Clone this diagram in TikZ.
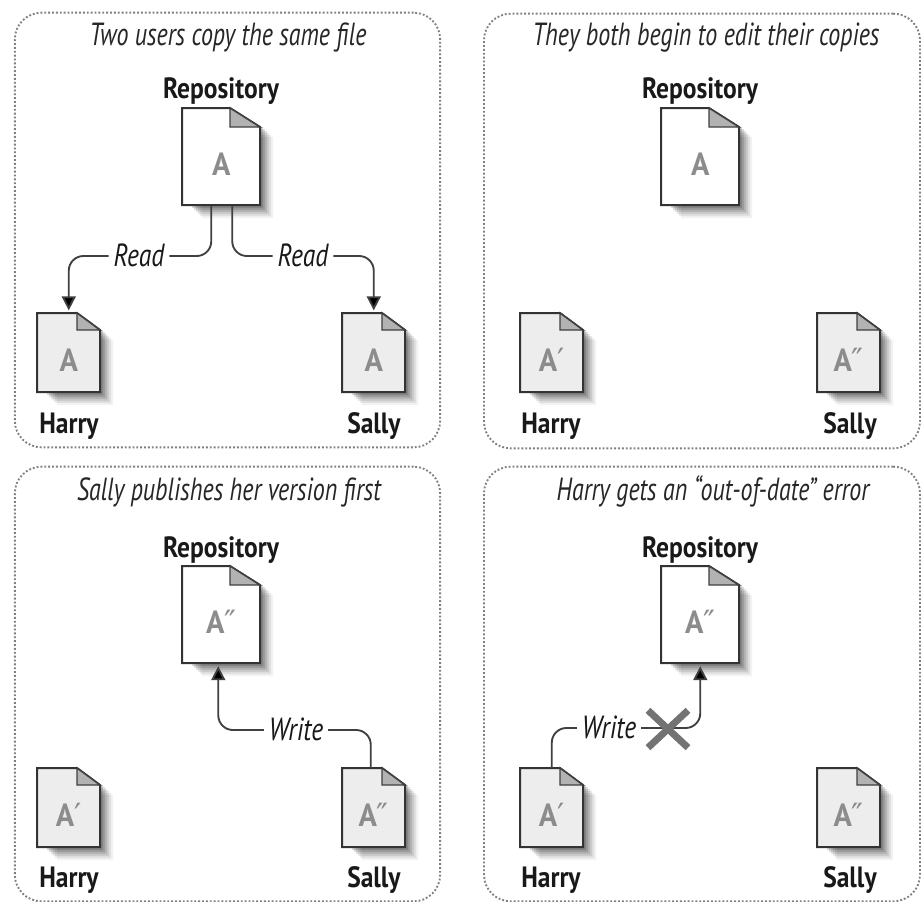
\documentclass[tikz,border=0pt]{standalone}
\usepackage{fontspec}
\usetikzlibrary{arrows.meta}
\newfontfamily\capfont[FakeStretch=0.75]{PT Sans}
\newfontfamily\edgefont[FakeStretch=0.8]{PT Sans}
\newfontfamily\namefont[FakeStretch=0.87]{PT Sans}
\newfontfamily\letterfont[FakeStretch=0.95]{PT Sans}
\newfontfamily\primefont[FakeStretch=1.0]{DejaVu Sans}
\newcommand{\Apr}{A{\primefont\normalfont\primefont ′}}
\newcommand{\Adp}{A{\primefont\normalfont\primefont ″}}
\tikzset{
  px/.style={x=0.75pt,y=-0.75pt},
  panel/.style={draw=black!50,line width=1.4pt,dash pattern=on 1.4pt off 1.5pt,rounded corners=20pt,minimum width=#1,minimum height=326pt,inner sep=0pt},
  captext/.style={font=\capfont\itshape\fontsize{24}{26}\selectfont,inner sep=0pt,text=black!85,anchor=base},
  docname/.style={font=\namefont\bfseries\fontsize{22}{24}\selectfont,inner sep=0pt,text=black!90,anchor=base},
  docletter/.style={font=\letterfont\bfseries\fontsize{24}{26}\selectfont,text=black!45,inner sep=0pt,text height=16pt,text depth=0pt},
  edgelabel/.style={font=\edgefont\itshape\fontsize{24}{26}\selectfont,fill=white,inner xsep=3.5pt,inner ysep=1pt,text=black!90,text height=16pt,text depth=0pt},
  conn/.style={draw=black!75,line width=1.4pt,rounded corners=11pt},
  tipped/.style={conn,-{Triangle[length=10.5pt,width=10.5pt,fill=black]},shorten >=2pt},
  docbox/.style={inner sep=0pt,anchor=north west},
}
% name, x, y, w, h, fold w, fold h, fill, letter
\newcommand{\docfile}[9]{%
  \foreach \dd/\op in {13/0.05,11/0.07,9/0.09,7/0.11,5/0.13,3/0.15}{
    \fill[black,opacity=\op] (#2+#4-20+\dd,#3+#7+\dd-3) -- (#2+#4+\dd,#3+#7+\dd-3) -- (#2+#4+\dd,#3+#5+\dd) -- (#2+10+\dd-3,#3+#5+\dd) -- (#2+10+\dd-3,#3+#5) -- (#2+#4,#3+#5) -- cycle;
  }
  \node[docbox,minimum width=#4*0.75pt,minimum height=#5*0.75pt] (#1) at (#2,#3) {};
  \draw[black!80,line width=1.5pt,fill=#8,line join=miter] (#2,#3) -- (#2+#4-#6,#3) -- (#2+#4,#3+#7) -- (#2+#4,#3+#5) -- (#2,#3+#5) -- cycle;
  \draw[black!75,line width=1.1pt,fill=black!30] (#2+#4-#6,#3) -- (#2+#4-#6,#3+#7) -- (#2+#4,#3+#7) -- cycle;
  \node[docletter] (#1-l) at ([yshift=-6pt]#1.center) {#9};
}
\newcommand{\repo}[4]{\docfile{#1}{#2}{#3}{78}{97}{30}{19}{white}{#4}}
\newcommand{\wcopy}[4]{\docfile{#1}{#2}{#3}{63}{79}{23}{17}{black!7}{#4}}
\begin{document}
\begin{tikzpicture}[px]
\useasboundingbox (0,0) rectangle (922,901);
\fill[white] (0,0) rectangle (922,901);
% panels
\node[panel=319pt] (p1) at (227.5,230) {};
\node[panel=327pt] (p2) at (702,231) {};
\node[panel=319pt] (p3) at (227.5,684) {};
\node[panel=327pt] (p4) at (702,684) {};
% captions
\node[captext] (c1) at (228,45) {Two users copy the same file};
\node[captext] (c2) at (706,45) {They both begin to edit their copies};
\node[captext] (c3) at (229,500) {Sally publishes her version first};
\node[captext] (c4) at (713,500) {Harry gets an “out-of-date” error};
% panel 1
\node[docname] (rn1) at (221,98) {Repository};
\repo{r1}{182}{108}{A}
\wcopy{h1}{37}{313}{A}
\wcopy{s1}{342}{313}{A}
\node[docname] (hn1) at (69,433) {Harry};
\node[docname] (sn1) at (374,433) {Sally};
\node[edgelabel] (l1a) at (139,256) {Read};
\node[edgelabel] (l1b) at (303,256) {Read};
\draw[conn] ([xshift=-7.5pt]r1.south) |- (l1a.east);
\draw[tipped] (l1a.west) -| (h1.north);
\draw[conn] ([xshift=8.25pt]r1.south) |- (l1b.west);
\draw[tipped] (l1b.east) -| (s1.north);
% panel 2
\node[docname] (rn2) at (700,98) {Repository};
\repo{r2}{661}{108}{A}
\wcopy{h2}{520}{313}{\Apr}
\wcopy{s2}{817}{313}{\Adp}
\node[docname] (hn2) at (551,433) {Harry};
\node[docname] (sn2) at (850,433) {Sally};
% panel 3
\node[docname] (rn3) at (221,557) {Repository};
\repo{r3}{182}{566}{\Adp}
\wcopy{h3}{37}{768}{\Apr}
\wcopy{s3}{342}{768}{\Adp}
\node[docname] (hn3) at (69,887) {Harry};
\node[docname] (sn3) at (374,887) {Sally};
\node[edgelabel] (l3) at (296,730) {Write};
\draw[conn] ([xshift=-2.25pt]s3.north) |- (l3.east);
\draw[tipped] (l3.west) -| ([xshift=-2.25pt]r3.south);
% panel 4
\node[docname] (rn4) at (700,557) {Repository};
\repo{r4}{661}{566}{\Adp}
\wcopy{h4}{520}{768}{\Apr}
\wcopy{s4}{817}{768}{\Adp}
\node[docname] (hn4) at (551,887) {Harry};
\node[docname] (sn4) at (850,887) {Sally};
\node[edgelabel] (l4) at (609,728) {Write};
\draw[conn] (h4.north) |- (l4.west);
\draw[tipped] (l4.east) -| (r4.south);
\coordinate (xc) at (668,729);
\draw[black!55,line width=5.2pt] ([shift={(-15pt,-14pt)}]xc) -- ([shift={(15pt,14pt)}]xc);
\draw[black!55,line width=5.2pt] ([shift={(-15pt,14pt)}]xc) -- ([shift={(15pt,-14pt)}]xc);
\end{tikzpicture}
\end{document}
